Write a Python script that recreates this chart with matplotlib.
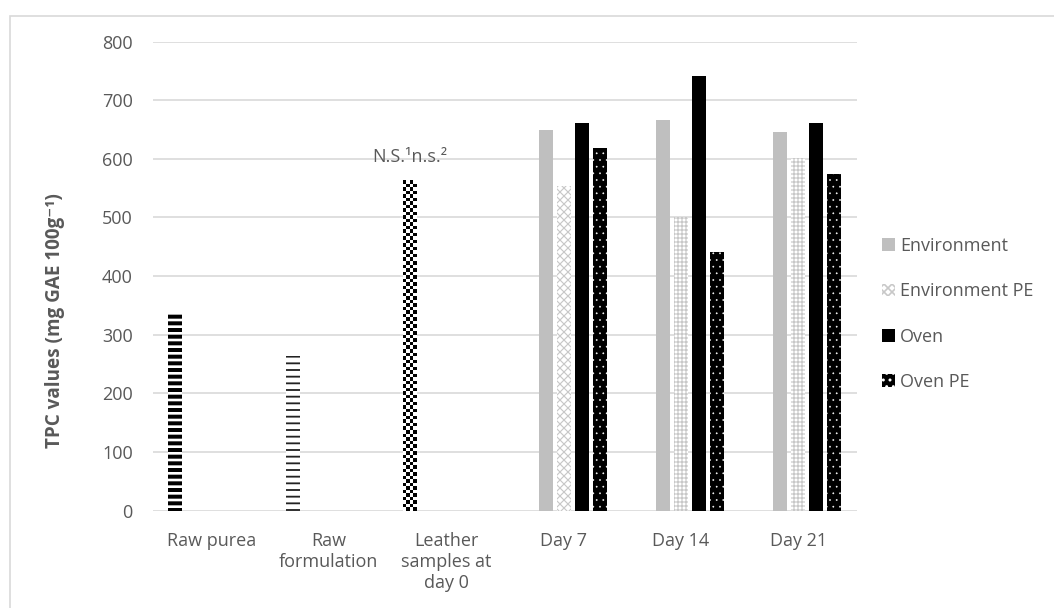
import numpy as np
import matplotlib

matplotlib.use("Agg")
import matplotlib.pyplot as plt  # noqa: E402
from matplotlib.patches import Rectangle  # noqa: E402

categories = ["Raw purea", "Raw\nformulation", "Leather\nsamples at\nday 0",
              "Day 7", "Day 14", "Day 21"]
initial_values = [335, 264, 564]          # first three categories
storage_values = {
    "Environment": [649, 666, 646],
    "Environment PE": [554, 500, 601],
    "Oven": [661, 742, 661],
    "Oven PE": [618, 441, 574],
}
yticks = [0, 100, 200, 300, 400, 500, 600, 700, 800]
note = "N.S.\u00b9n.s.\u00b2"
ylabel = "TPC values (mg GAE 100g\u207b\u00b9)"

GREY_TXT = "#595959"
GRID = "#d9d9d9"
FONT = ["Open Sans", "DejaVu Sans"]
plt.rcParams["font.family"] = FONT
plt.rcParams["font.size"] = 10.8

DPI = 120
fig = plt.figure(figsize=(1054 / DPI, 608 / DPI), dpi=DPI)
ax = fig.add_axes([0.1449, 0.16, 0.8131 - 0.1449, 0.9317 - 0.16])

slot = 0.1533
bw = 0.119
x = np.arange(len(categories))


def hatched_bars(xs, vals, face, edge, hatch, hlw, label=None):
    with plt.rc_context({"hatch.linewidth": hlw}):
        bars = ax.bar(xs, vals, bw, color=face, edgecolor=edge, linewidth=0,
                      hatch=hatch, label=label, zorder=3)
    for b in bars:
        if hasattr(b, "set_hatch_linewidth"):
            b.set_hatch_linewidth(hlw)
    return bars


# initial samples (one series, different pattern per point)
xi = x[:3] - 2 * slot
hatched_bars([xi[0]], [initial_values[0]], "white", "black", "---", 2.4)
hatched_bars([xi[1]], [initial_values[1]], "white", "#222222", "---", 1.1)
leather = ax.bar([xi[2]], [initial_values[2]], bw, color="white", linewidth=0, zorder=3)[0]
n_rows = int(round(initial_values[2] * 0.5862 / 3.5))
checker = (np.indices((n_rows, 4)).sum(axis=0) % 2).astype(float)
img = ax.imshow(checker, cmap="gray", interpolation="nearest", aspect="auto", zorder=4,
                extent=(leather.get_x(), leather.get_x() + leather.get_width(),
                        0, leather.get_height()))
img.set_clip_path(leather)
ax.text(xi[2], 595, note, ha="center", va="baseline", color=GREY_TXT, zorder=5)

# storage series
xs = x[3:]
hatched_bars(xs - slot, storage_values["Environment"], "#bfbfbf", "#bfbfbf", None, 1,
             label="Environment")
pe = hatched_bars(xs, storage_values["Environment PE"], "white", "#c8c8c8", "xxxxx", 0.7,
                  label="Environment PE")
pe[1].set_hatch("+++++")
pe[2].set_hatch("+++++")
hatched_bars(xs + slot, storage_values["Oven"], "black", "black", None, 1, label="Oven")
hatched_bars(xs + 2 * slot, storage_values["Oven PE"], "black", "white", "...", 0.25,
             label="Oven PE")

ax.set_xlim(-0.5, len(categories) - 0.5)
ax.set_ylim(0, 800)
ax.set_yticks(yticks)
ax.set_xticks(x)
ax.set_xticklabels(categories, linespacing=1.2)
ax.tick_params(axis="both", length=0, colors=GREY_TXT, labelsize=10.8)
ax.tick_params(axis="y", pad=12)
ax.tick_params(axis="x", pad=13)
ax.grid(axis="y", color=GRID, linewidth=1.0, zorder=0)
ax.set_axisbelow(True)
for s in ax.spines.values():
    s.set_visible(False)

fig.text(55 / 1054, 1 - 321 / 608, ylabel, rotation=90, ha="center", va="center",
         fontweight="bold", color=GREY_TXT, fontsize=11.3)

leg = ax.legend(loc="center left", bbox_to_anchor=(0.8368, 0.4836),
                bbox_transform=fig.transFigure, frameon=False, fontsize=10.8,
                handlelength=0.7, handleheight=0.7, handletextpad=0.3,
                labelspacing=1.52, borderpad=0, borderaxespad=0)
for t in leg.get_texts():
    t.set_color(GREY_TXT)

fig.add_artist(Rectangle((10 / 1054, -0.05), 1.1, 1 - 15.7 / 608 + 0.05,
                         transform=fig.transFigure, fill=False,
                         edgecolor=GRID, linewidth=1.0))

fig.savefig("out.png", dpi=DPI)
